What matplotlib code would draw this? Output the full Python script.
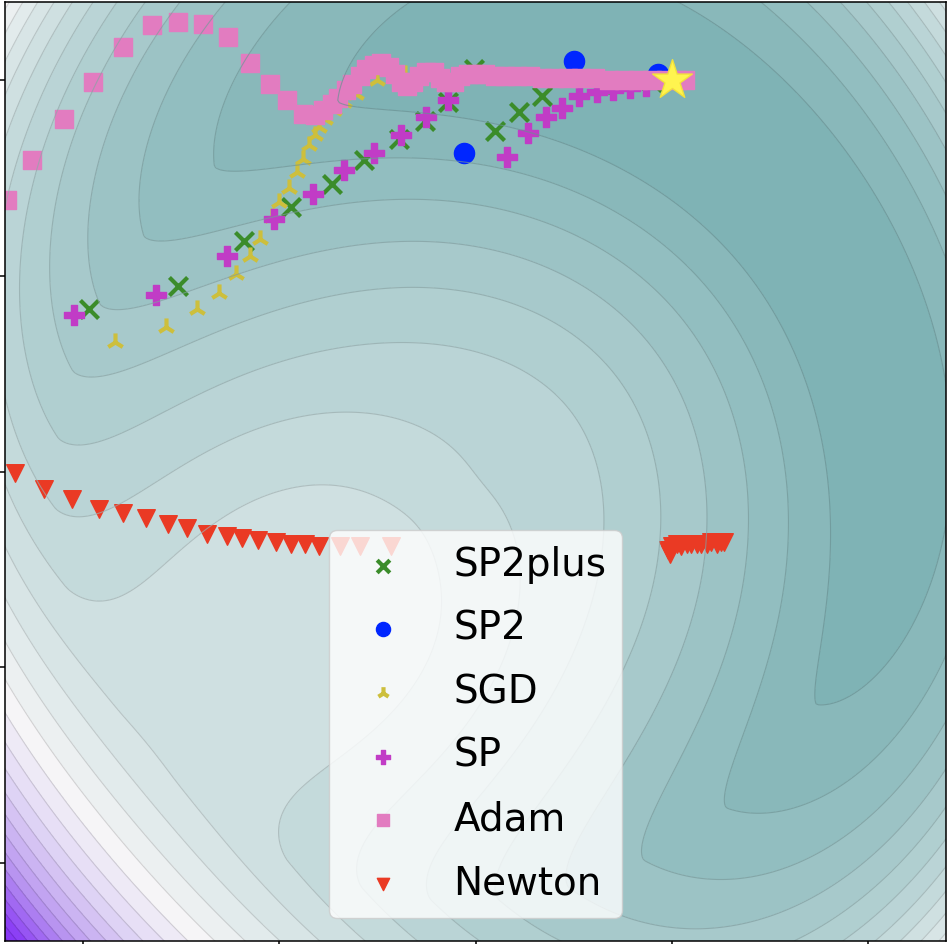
import numpy as np
import matplotlib
matplotlib.use("Agg")
import matplotlib.pyplot as plt
from matplotlib.colors import LinearSegmentedColormap, TwoSlopeNorm

# iterates of each method (data coords)
sp2plus_x = [-1.97, -1.52, -1.18, -0.94, -0.73, -0.57, -0.39, -0.26, -0.14, -0.01, 0.10, 0.22, 0.34, 0.64, 0.90]
sp2plus_y = [0.83, 0.95, 1.18, 1.35, 1.47, 1.59, 1.70, 1.79, 1.89, 2.06, 1.74, 1.84, 1.92, 1.98, 1.99]

sp2_x = [-0.06, 0.50, 0.93]
sp2_y = [1.63, 2.10, 2.03]

sgd_x = [-1.84, -1.58, -1.42, -1.31, -1.22, -1.15, -1.10, -1.04, -1.00, -0.95, -0.91,
         -0.88, -0.85, -0.82, -0.80, -0.77, -0.72, -0.67, -0.61, -0.50, -0.36]
sgd_y = [0.66, 0.74, 0.83, 0.91, 1.01, 1.10, 1.19, 1.30, 1.38, 1.45, 1.53,
         1.60, 1.67, 1.72, 1.76, 1.80, 1.85, 1.89, 1.93, 2.00, 2.03]

sp_x = [-2.05, -1.63, -1.27, -1.03, -0.83, -0.67, -0.52, -0.38, -0.25, -0.14,
        0.16, 0.27, 0.36, 0.44, 0.53, 0.62, 0.70, 0.79, 0.87]
sp_y = [0.80, 0.90, 1.10, 1.29, 1.42, 1.54, 1.63, 1.72, 1.81, 1.90,
        1.61, 1.73, 1.81, 1.86, 1.92, 1.94, 1.95, 1.96, 1.97]

adam_x = [-2.39, -2.26, -2.10, -1.95, -1.80, -1.65, -1.52, -1.39, -1.26, -1.15, -1.05, -0.96,
          -0.88, -0.82, -0.78, -0.73, -0.70, -0.66, -0.63, -0.59, -0.56, -0.52, -0.48, -0.44,
          -0.41, -0.38, -0.35, -0.32, -0.29, -0.25, -0.21, -0.18, -0.15, -0.11, -0.08, -0.04,
          0.00, 0.05, 0.10, 0.15, 0.21, 0.28, 0.34, 0.40, 0.47, 0.54, 0.61, 0.68, 0.76, 0.83,
          0.90, 0.97, 1.03, 1.07]
adam_y = [1.39, 1.59, 1.80, 1.99, 2.17, 2.28, 2.30, 2.29, 2.22, 2.09, 1.98, 1.90,
          1.83, 1.82, 1.85, 1.88, 1.91, 1.95, 1.98, 2.02, 2.06, 2.08, 2.09, 2.07,
          2.03, 1.99, 1.97, 1.99, 2.02, 2.04, 2.04, 2.01, 1.99, 1.99, 2.02, 2.03,
          2.03, 2.03, 2.02, 2.02, 2.02, 2.02, 2.01, 2.01, 2.01, 2.01, 2.01, 2.00, 2.00, 2.00,
          2.00, 2.00, 2.00, 2.00]

newton_x = [-2.35, -2.20, -2.06, -1.92, -1.80, -1.68, -1.57, -1.47, -1.37, -1.27, -1.19, -1.11,
            -1.02, -0.94, -0.87, -0.80, -0.69, -0.59, -0.43,
            0.98, 0.99, 1.00, 1.03, 1.05, 1.08, 1.10, 1.13, 1.15, 1.18, 1.20, 1.23, 1.25, 1.27]
newton_y = [-0.01, -0.09, -0.14, -0.19, -0.21, -0.24, -0.27, -0.29, -0.32, -0.33, -0.34, -0.35,
            -0.36, -0.37, -0.37, -0.38, -0.38, -0.38, -0.38,
            -0.40, -0.42, -0.38, -0.37, -0.38, -0.37, -0.37, -0.37, -0.37, -0.37, -0.36, -0.37, -0.36, -0.36]

optimum = (1.0, 2.0)


def landscape(x, y):
    # ring shaped valley around a central bump, tilted so that the
    # lower left side climbs steeply
    cx, cy, R = -0.05, -0.1, 2.1
    u, v = x - cx, y - cy
    r = np.sqrt(u ** 2 + v ** 2 + 0.1 ** 2)
    d = r - R
    inner = 7.0 * np.clip(1 - (r / R) ** 2, 0, None) ** 1.4
    steep = 1.4 + 0.8 * np.cos(2 * np.arctan2(v, u))
    outer = (2.5 * d ** 2 + 0.5 * d ** 4) * steep
    ring = np.where(d < 0, inner, outer)

    th0 = np.deg2rad(38)
    a = 1 - (u * np.cos(th0) + v * np.sin(th0)) / r
    tilt = r * (0.83 * a ** 1.5 + 0.1 * a ** 4)

    corner = 6 * np.exp((np.hypot(x - 1.5, y - 1.5) - 5.52) / 0.6)
    return ring + tilt + corner


g = np.linspace(-2.45, 2.45, 400)
gx, gy = np.meshgrid(g, g)
fz = landscape(gx, gy)
fz = fz - fz.min()

cmap = LinearSegmentedColormap.from_list('tealpurple', [
    (0.0, (122 / 255, 176 / 255, 178 / 255)),
    (0.5, (246 / 255, 246 / 255, 247 / 255)),
    (0.62, (225 / 255, 215 / 255, 245 / 255)),
    (0.8, (185 / 255, 150 / 255, 240 / 255)),
    (1.0, (135 / 255, 55 / 255, 245 / 255)),
])
norm = TwoSlopeNorm(vmin=0, vcenter=12.5, vmax=24)
levels = np.arange(0, np.ceil(fz.max()) + 1, 1.0)
line_colors = [tuple(0.8 * np.array(cmap(norm(l))[:3])) for l in levels]

fig = plt.figure(figsize=(9.5, 9.44), dpi=100)
ax = fig.add_axes([5 / 950, 3 / 944, 941 / 950, 939 / 944])
ax.contourf(gx, gy, fz, levels=levels, cmap=cmap, norm=norm)
ax.contour(gx, gy, fz, levels=levels, colors=line_colors, linewidths=0.8, alpha=0.7)

ax.scatter(sp2plus_x, sp2plus_y, marker='x', s=170, linewidths=3, color='#3b8c2a', label='SP2plus')
ax.scatter(sp2_x, sp2_y, marker='o', s=210, color='#0026ff', label='SP2')
ax.scatter(sgd_x, sgd_y, marker='2', s=170, linewidths=3, color='#cdbf3c', label='SGD')
ax.scatter(sp_x, sp_y, marker='P', s=220, color='#c13cc6', label='SP')
ax.scatter(adam_x, adam_y, marker='s', s=170, color='#e27cc0', label='Adam')
ax.scatter(newton_x, newton_y, marker='v', s=160, color='#ea3a24', label='Newton')
ax.scatter([optimum[0]], [optimum[1]], marker='*', s=900, color='#fff44f',
           edgecolors='#f2e23a', linewidths=1, zorder=5)

ax.set_xlim(-2.4, 2.4)
ax.set_ylim(-2.4, 2.4)
ax.set_xticks([-2, -1, 0, 1, 2])
ax.set_yticks([-2, -1, 0, 1, 2])
ax.tick_params(labelleft=False, labelbottom=False, length=4, width=1.1, direction='out')
for sp in ax.spines.values():
    sp.set_linewidth(1.1)

ax.legend(loc='lower center', fontsize=28, markerscale=0.7, framealpha=0.8,
          labelspacing=0.66, borderaxespad=0.6)

fig.savefig('out.png', dpi=100)
